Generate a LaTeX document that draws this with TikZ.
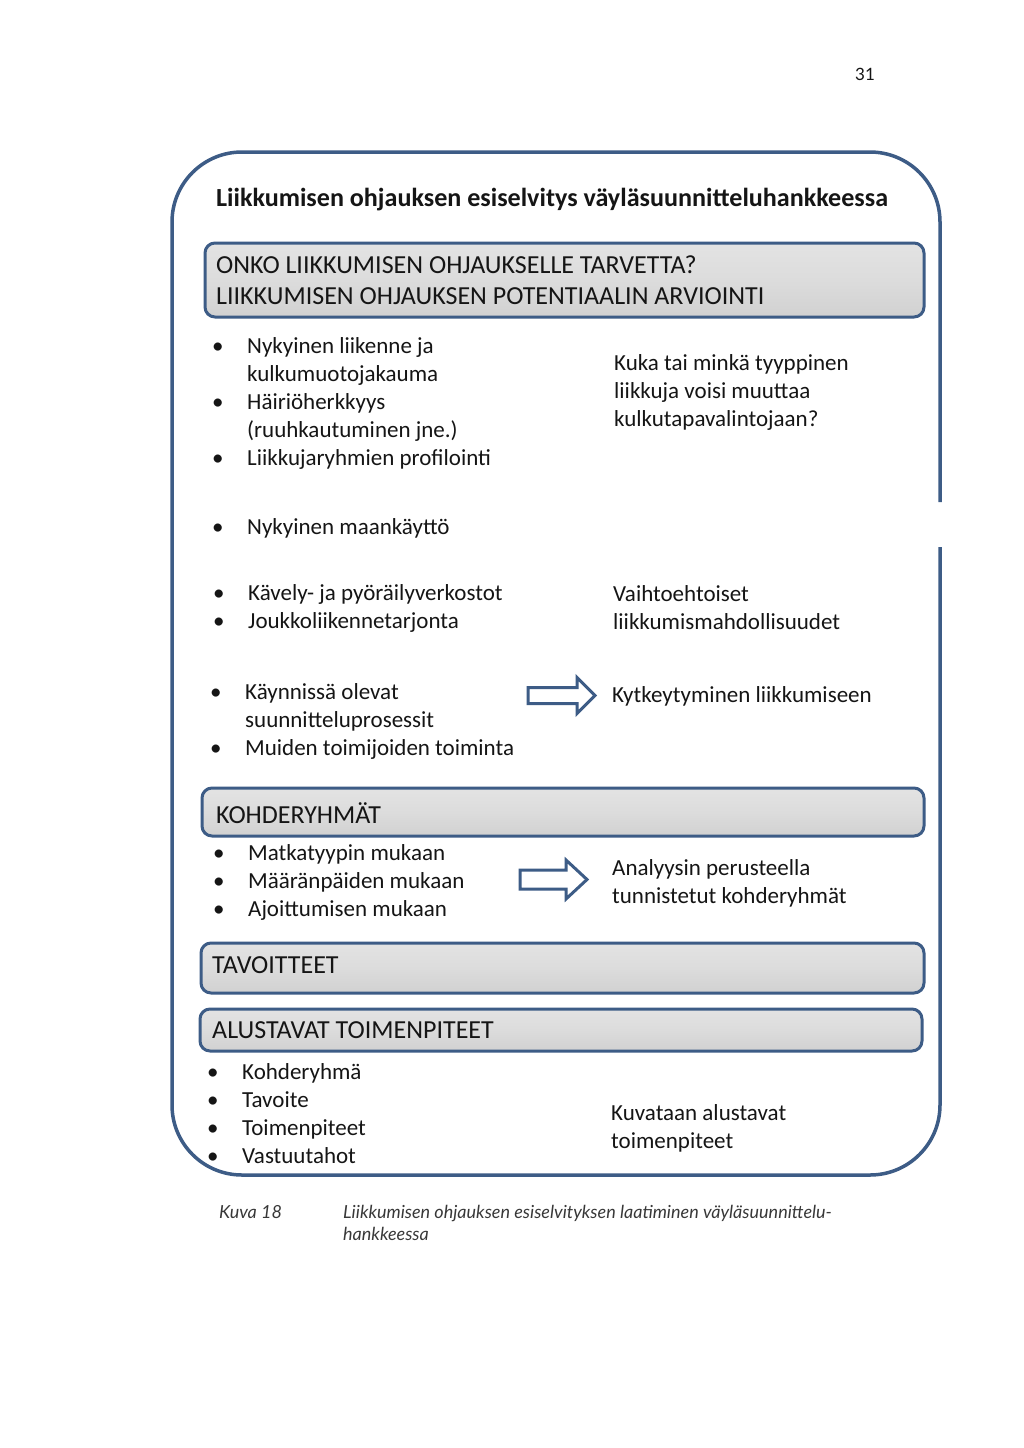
\documentclass[tikz,border=0pt]{standalone}
\usepackage{fontspec}
\setmainfont{Carlito}
\newfontfamily\capfont{Lato}
\definecolor{frame}{HTML}{3D5C86}
\definecolor{hdfill}{HTML}{DCDCDC}
\definecolor{ink}{HTML}{151515}
\newcommand{\bodyf}{\fontsize{23}{28}\selectfont}
\newcommand{\headf}{\fontsize{26}{31}\selectfont}
\newcommand{\bst}{\rule{0pt}{20pt}}
\newcommand{\hst}{\rule{0pt}{22pt}}
\newcommand{\bl}{\makebox[35pt][l]{•}}
\newcommand{\ind}{\hspace*{35pt}}
\tikzset{
  body/.style={anchor=north west, inner sep=0pt, align=left, font=\bodyf, text=ink},
  head/.style={anchor=north west, inner sep=0pt, align=left, font=\headf, text=ink},
  hbox/.style={draw=frame, line width=3pt, rounded corners=10pt, top color=hdfill!80!white, bottom color=hdfill!95!black, middle color=hdfill, inner sep=0pt},
  barrow/.style={draw=frame, line width=3pt, fill=white, line join=miter},
  captxt/.style={anchor=base west, inner sep=0pt, font=\capfont\itshape\fontsize{18}{22}\selectfont, text=ink!85}
}
\begin{document}
\begin{tikzpicture}[x=1pt,y=-1pt]
\useasboundingbox[fill=white] (0,0) rectangle (1024,1448);
% page number
\node[anchor=base, inner sep=0pt, font=\capfont\fontsize{17}{20}\selectfont, text=ink] (pg) at (865,80) {31};
% outer frame with a gap on the right side
\draw[frame, line width=3.5pt, rounded corners=70pt] (940,547) -- (940,1175) -- (172,1175) -- (172,152) -- (940,152) -- (940,502);
% title
\node[anchor=base west, inner sep=0pt, font=\bfseries\fontsize{26.1}{31}\selectfont, text=ink] (title) at (216,206) {Liikkumisen ohjauksen esiselvitys väyläsuunnitteluhankkeessa};
% header 1
\node[hbox, minimum width=719pt, minimum height=74pt] (h1) at (564.5,280) {};
\node[head] (h1t) at (216,251) {\hst ONKO LIIKKUMISEN OHJAUKSELLE TARVETTA?\\LIIKKUMISEN OHJAUKSEN POTENTIAALIN ARVIOINTI};
% group A
\node[body] (ga) at (212,333) {\bst\bl Nykyinen liikenne ja\\\ind kulkumuotojakauma\\\bl Häiriöherkkyys\\\ind (ruuhkautuminen jne.)\\\bl Liikkujaryhmien profilointi};
\node[body] (ra) at (614,350) {\bst Kuka tai minkä tyyppinen\\liikkuja voisi muuttaa\\kulkutapavalintojaan?};
% group B
\node[body] (gb) at (212,514) {\bst\bl Nykyinen maankäyttö};
% group C
\node[body] (gc) at (213,580) {\bst\bl Kävely- ja pyöräilyverkostot\\\bl Joukkoliikennetarjonta};
\node[body] (rc) at (613,581) {\bst Vaihtoehtoiset\\liikkumismahdollisuudet};
% group D
\node[body] (gd) at (210,679) {\bst\bl Käynnissä olevat\\\ind suunnitteluprosessit\\\bl Muiden toimijoiden toiminta};
\draw[barrow] (528,687.5) -- (577,687.5) -- (577,677.5) -- (595,695.5) -- (577,713.5) -- (577,703.5) -- (528,703.5) -- cycle;
\node[body] (rd) at (612,682) {\bst Kytkeytyminen liikkumiseen};
% header 2
\node[hbox, minimum width=722pt, minimum height=48pt] (h2) at (563,812) {};
\node[head] (h2t) at (216,801) {\hst KOHDERYHMÄT};
% group E
\node[body] (ge) at (213,840) {\bst\bl Matkatyypin mukaan\\\bl Määränpäiden mukaan\\\bl Ajoittumisen mukaan};
\draw[barrow] (520,870) -- (566,870) -- (566,860) -- (587,879.5) -- (566,899) -- (566,889) -- (520,889) -- cycle;
\node[body] (re) at (612,855) {\bst Analyysin perusteella\\tunnistetut kohderyhmät};
% header 3
\node[hbox, minimum width=723pt, minimum height=50pt] (h3) at (562.5,968) {};
\node[head] (h3t) at (212,951) {\hst TAVOITTEET};
% header 4
\node[hbox, minimum width=722pt, minimum height=42pt] (h4) at (561,1030) {};
\node[head] (h4t) at (212,1016) {\hst ALUSTAVAT TOIMENPITEET};
% group F
\node[body] (gf) at (207,1059) {\bst\bl Kohderyhmä\\\bl Tavoite\\\bl Toimenpiteet\\\bl Vastuutahot};
\node[body] (rf) at (611,1100) {\bst Kuvataan alustavat\\toimenpiteet};
% caption
\node[captxt] (c1) at (219,1218) {Kuva 18};
\node[captxt] (c2) at (343,1218) {Liikkumisen ohjauksen esiselvityksen laatiminen väyläsuunnittelu-};
\node[captxt] (c3) at (343,1240) {hankkeessa};
\end{tikzpicture}
\end{document}
